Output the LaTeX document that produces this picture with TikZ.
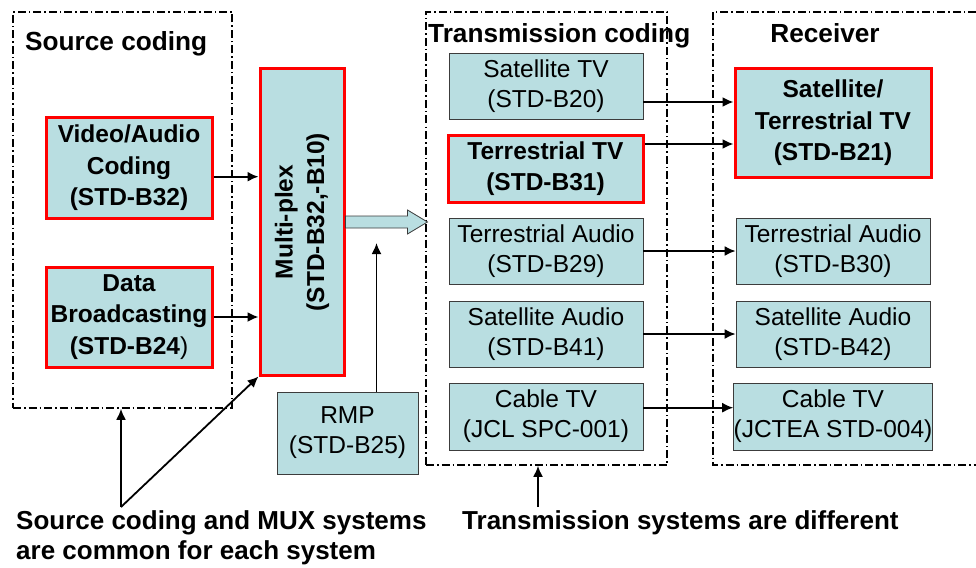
\documentclass[tikz,border=0pt]{standalone}
\usepackage{fontspec}
\setmainfont{Liberation Sans}
\usepackage{xcolor}
\usetikzlibrary{arrows.meta}
\usetikzlibrary{calc}

\definecolor{stdfill}{RGB}{185,222,225}
\definecolor{stdline}{RGB}{60,60,60}
\definecolor{keyred}{RGB}{255,0,0}

\tikzset{
    stdbox/.style={draw=stdline, line width=0.8pt, fill=stdfill, align=center,
        inner sep=0pt, font=\fontsize{24.5}{30}\selectfont},
    keybox/.style={stdbox, draw=keyred, line width=3pt,
        font=\fontsize{24.5}{31.5}\selectfont\bfseries},
    group/.style={draw, line width=1.6pt,
        dash pattern=on 8pt off 3pt on 1.5pt off 3pt},
    arr/.style={line width=1.8pt, -{Latex[length=11pt,width=10pt]}},
    title/.style={font=\fontsize{26.2}{30}\selectfont\bfseries, inner sep=0pt},
    note/.style={font=\fontsize{26}{30}\selectfont\bfseries, inner sep=0pt, align=left},
}

\begin{document}
\begin{tikzpicture}[x=1pt, y=-1pt]
        \useasboundingbox (0,0) rectangle (976,567);

        % frames
        \node[group, minimum width=219pt, minimum height=396pt] (srcgrp) at (122.5,210) {};
        \node[group, minimum width=241pt, minimum height=453pt] (trgrp) at (546.5,238.5) {};
        \draw[group] (976,12) -| (713,465) -- (976,465);

        \node[title, anchor=base west] (srctitle) at (25,50.5) {Source coding};
        \node[title, anchor=base west] (trtitle) at (428,42.5) {Transmission coding};
        \node[title, anchor=base] (rxtitle) at (825,42.5) {Receiver};

        % source side
        \node[keybox, minimum width=166pt, minimum height=100pt] (vac) at (129,168)
            {Video/Audio\\Coding\\(STD-B32)};
        \node[keybox, minimum width=166pt, minimum height=100pt] (dab) at (129,317)
            {Data\\Broadcasting\\(STD-B24{\mdseries )}};
        % rotated: north = left side, south = right side
        \node[keybox, rotate=90, minimum width=306pt, minimum height=84pt] (mux) at (302,222)
            {Multi-plex\\(STD-B32,-B10)};
        \node[stdbox, minimum width=141pt, minimum height=82pt] (rmp) at (347.5,433)
            {RMP\\(STD-B25)};

        % transmission
        \node[stdbox, minimum width=194pt, minimum height=66pt] (sattv) at (546,86)
            {Satellite TV\\(STD-B20)};
        \node[keybox, minimum width=195pt, minimum height=67pt] (tertv) at (545.5,168.5)
            {Terrestrial TV\\(STD-B31)};
        \node[stdbox, minimum width=194pt, minimum height=66pt] (terau) at (546,251)
            {Terrestrial Audio\\(STD-B29)};
        \node[stdbox, minimum width=194pt, minimum height=66pt] (satau) at (546,334)
            {Satellite Audio\\(STD-B41)};
        \node[stdbox, minimum width=194pt, minimum height=67pt] (cable) at (546,416.5)
            {Cable TV\\(JCL SPC-001)};

        % receiver
        \node[keybox, minimum width=196pt, minimum height=108pt] (rxtv) at (833,123)
            {Satellite/\\Terrestrial TV\\(STD-B21)};
        \node[stdbox, minimum width=194pt, minimum height=66pt] (rxterau) at (833,251)
            {Terrestrial Audio\\(STD-B30)};
        \node[stdbox, minimum width=194pt, minimum height=66pt] (rxsatau) at (833,334)
            {Satellite Audio\\(STD-B42)};
        \node[stdbox, minimum width=194pt, minimum height=67pt] (rxcable) at (833,416.5)
            {Cable TV\\(JCTEA STD-004)};

        % connectors
        \draw[arr] ([yshift=-8.7pt]vac.east) -- ([yshift=-8.7pt]vac.east -| mux.north);
        \draw[arr] (dab.east) -- (dab.east -| mux.north);
        \draw[line width=0.8pt, draw=stdline, fill=stdfill] ($(mux.south)+(0,-6)$)
            -- ++(62,0) -- ++(0,-6) -- ++(20,12) -- ++(-20,12) -- ++(0,-6)
            -- ++(-62,0) -- cycle;
        \coordinate (rmptip) at (376.5,243);
        \draw[arr] ([xshift=29pt]rmp.north) -- (rmptip);

        \draw[arr] ([yshift=-16pt]sattv.east) -- ([yshift=-16pt]sattv.east -| rxtv.west);
        \draw[arr] ([yshift=24.5pt]tertv.east) -- ([yshift=24.5pt]tertv.east -| rxtv.west);
        \draw[arr] (terau.east) -- (rxterau.west);
        \draw[arr] (satau.east) -- (rxsatau.west);
        \draw[arr] ([yshift=8.8pt]cable.east) -- ([yshift=8.8pt]cable.east -| rxcable.west);

        % notes
        \coordinate (srcnote) at (121,507);
        \draw[arr] (srcnote) -- (srcnote |- srcgrp.south);
        \draw[arr] (srcnote) -- (mux.north west);
        \coordinate (trnote) at (538,507);
        \draw[arr] (trnote) -- (trnote |- trgrp.south);

        \node[note, anchor=west] (srctext) at (16,537.5)
            {Source coding and MUX systems\\are common for each system};
        \node[note, anchor=base west] (trtext) at (462,529.5)
            {Transmission systems are different};
\end{tikzpicture}
\end{document}
